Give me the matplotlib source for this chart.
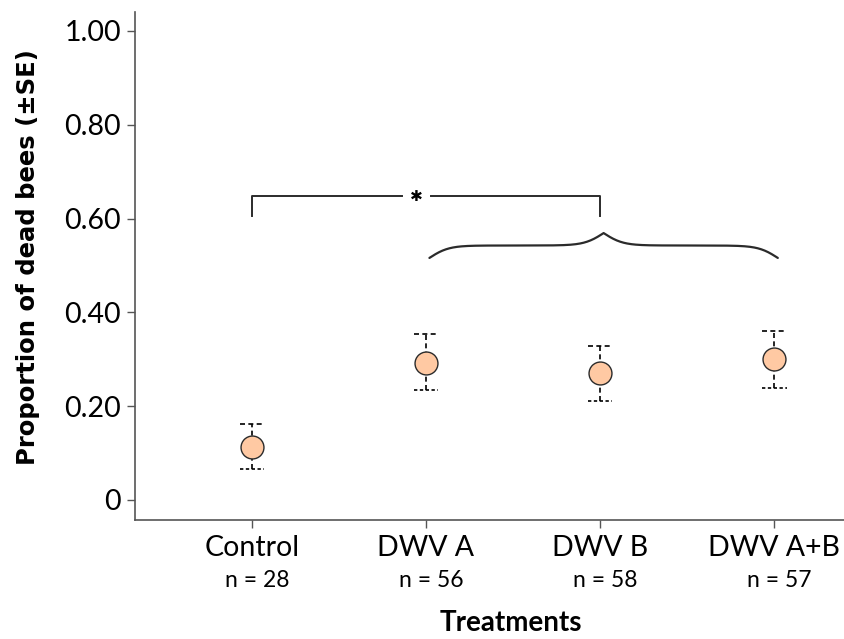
import matplotlib

matplotlib.use("Agg")

import matplotlib.pyplot as plt
import numpy as np

# data
treatments = ["Control", "DWV A", "DWV B", "DWV A+B"]
sample_sizes = [28, 56, 58, 57]
mean_dead = [0.113, 0.292, 0.271, 0.301]
upper_se = [0.162, 0.354, 0.328, 0.360]
lower_se = [0.066, 0.235, 0.211, 0.239]
y_ticks = [0.0, 0.2, 0.4, 0.6, 0.8, 1.0]
y_tick_labels = ["0", "0.20", "0.40", "0.60", "0.80", "1.00"]

INK = "#2b2b2b"
PEACH = "#FFC9A3"


def curly_brace(ax, x_start, x_end, y_base, height, beta=18.0):
    xs = np.linspace(x_start, x_end, 401)
    half = xs[:201]
    v = 1.0 / (1.0 + np.exp(-beta * (half - half[0]))) + 1.0 / (1.0 + np.exp(-beta * (half - half[-1])))
    v = np.concatenate((v, v[-2::-1]))
    ys = y_base + (v - 0.5) * height
    ax.plot(xs, ys, color=INK, linewidth=1.6, solid_capstyle="round")


def main() -> None:
    plt.rcParams["font.family"] = ["Lato", "DejaVu Sans"]

    fig = plt.figure(figsize=(8.44, 6.39), dpi=100)
    ax = fig.add_axes([0.16, 0.186, 0.84, 0.795])

    x = np.arange(len(treatments))
    mean = np.array(mean_dead)
    err = np.vstack([mean - np.array(lower_se), np.array(upper_se) - mean])

    bars = ax.errorbar(x, mean, yerr=err, fmt="none", ecolor="black", elinewidth=1.2, capsize=0, zorder=2)
    bars[2][0].set_linestyle((0, (3, 2)))
    cap_half = 0.07
    ax.hlines(upper_se, x - cap_half, x + cap_half, colors="black", linewidth=1.2,
              linestyles=(0, (3, 2)), zorder=2)
    ax.hlines(lower_se, x - cap_half, x + cap_half, colors="black", linewidth=1.2,
              linestyles=(0, (2, 1.5)), zorder=2)
    ax.plot(x, mean, "o", markersize=16.5, markerfacecolor=PEACH, markeredgecolor=INK,
            markeredgewidth=1.0, zorder=3)

    # significance bracket between Control and DWV B
    b_low, b_high = 0.606, 0.648
    ax.plot([0, 0, 0.86], [b_low, b_high, b_high], color=INK, linewidth=1.4)
    ax.plot([1.03, 2, 2], [b_high, b_high, b_low], color=INK, linewidth=1.4)
    ax.text(0.945, b_high, "\u2731", ha="center", va="center", fontsize=11,
            family="DejaVu Sans", color="black")
    curly_brace(ax, 1.02, 3.02, 0.516, 0.053)

    ax.set_xlim(-0.67, 3.4)
    ax.set_ylim(-0.043, 1.04)
    ax.set_yticks(y_ticks)
    ax.set_yticklabels(y_tick_labels)
    ax.set_xticks(x)
    ax.set_xticklabels(treatments)
    ax.tick_params(axis="both", direction="out", length=6, width=1.0, color="#555555",
                   labelsize=20.5, labelcolor="black")
    ax.tick_params(axis="x", pad=5)
    ax.tick_params(axis="y", pad=4)

    for side in ("top", "right"):
        ax.spines[side].set_visible(False)
    for side in ("left", "bottom"):
        ax.spines[side].set_color("#555555")
        ax.spines[side].set_linewidth(1.2)

    for i, n in enumerate(sample_sizes):
        ax.text(x[i] + 0.03, -0.118, f"n = {n}", transform=ax.get_xaxis_transform(),
                ha="center", va="center", fontsize=16.5)

    fig.text(0.605, 0.025, "Treatments", ha="center", va="center", fontsize=20,
             fontweight="bold")
    fig.text(0.033, 0.598, "Proportion of dead bees (\u00b1SE)", rotation=90,
             ha="center", va="center", fontsize=17.5, fontweight="bold",
             family="DejaVu Sans")

    fig.savefig("out.png", dpi=100)
    plt.close(fig)


if __name__ == "__main__":
    main()
